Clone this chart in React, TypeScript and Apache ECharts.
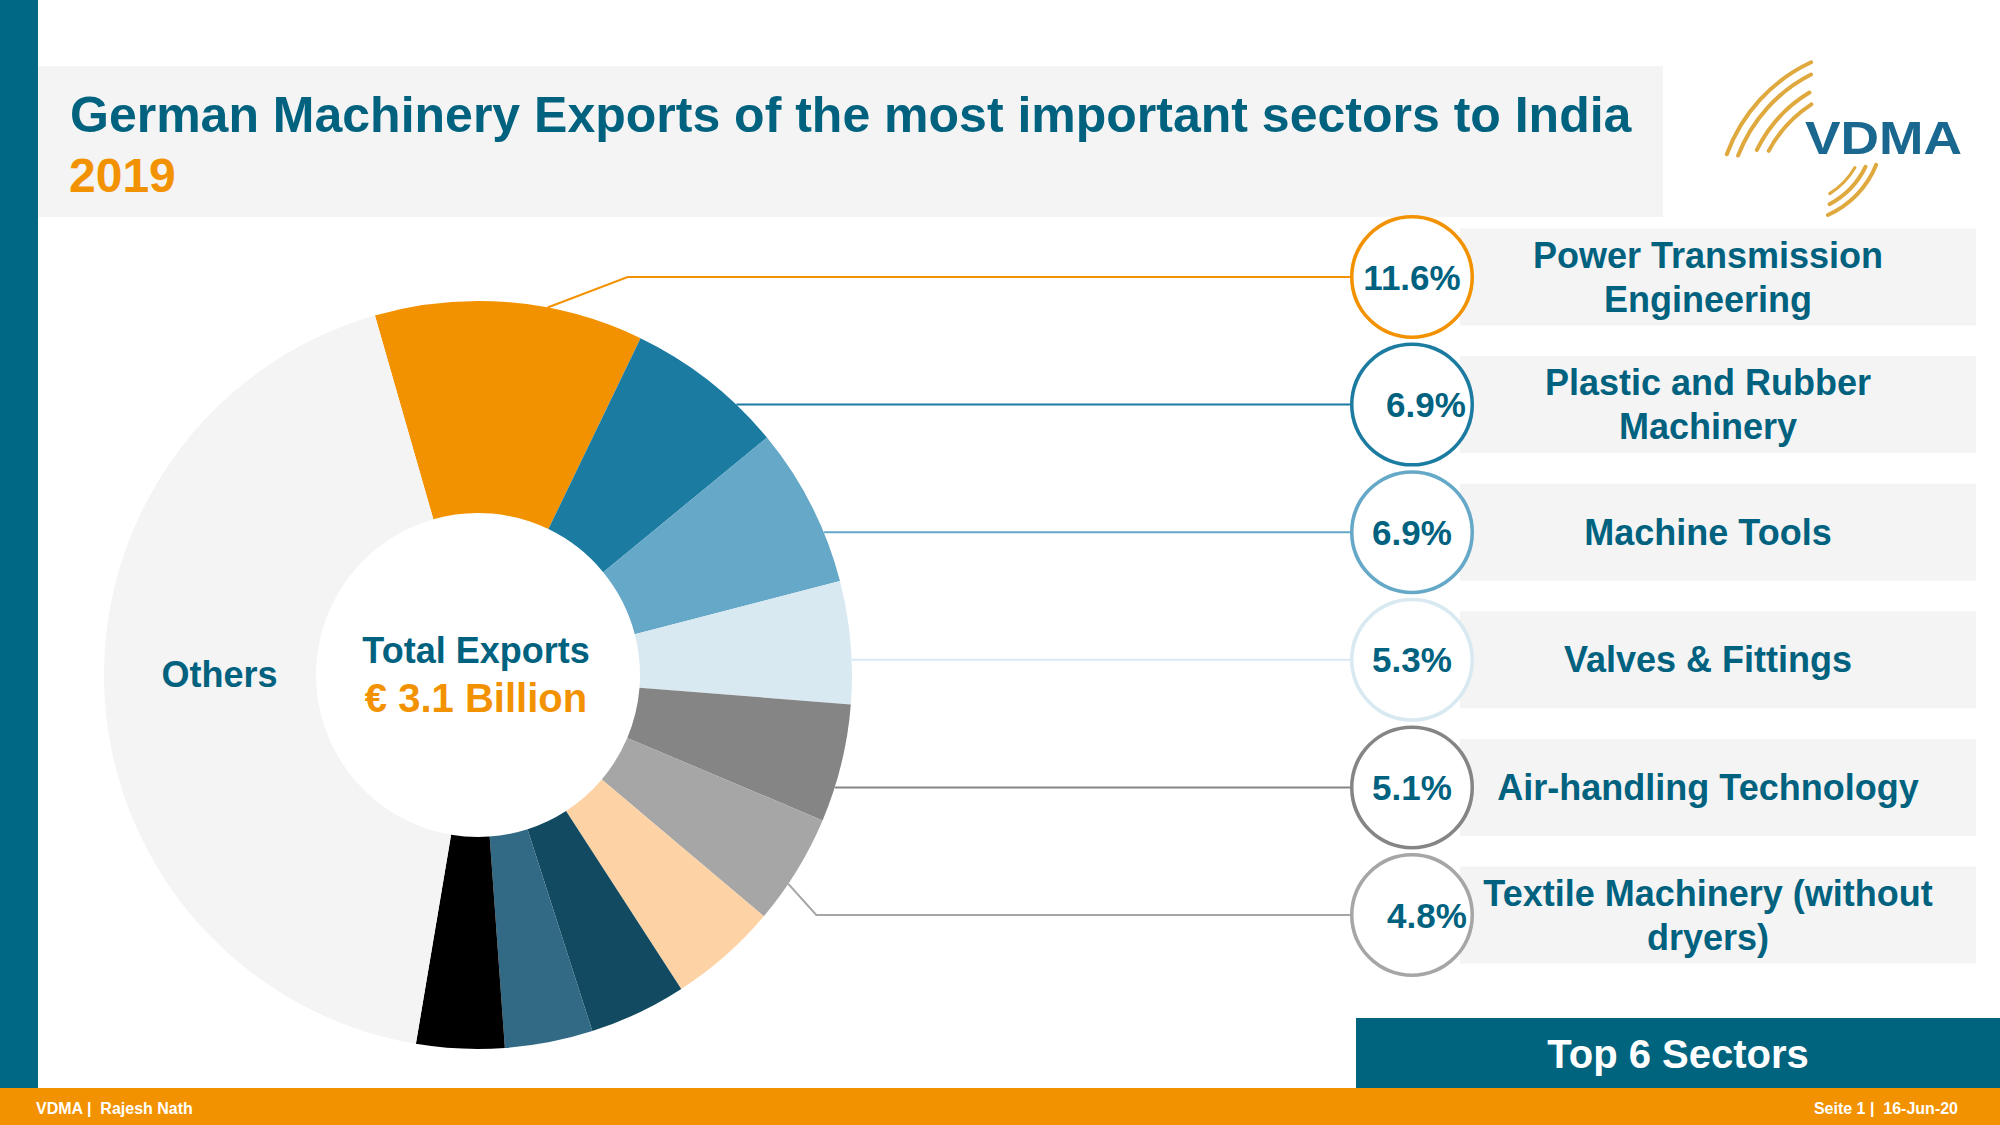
import React, { useEffect, useRef } from 'react';
import * as echarts from 'echarts';

// ---------- data ----------
const sectorNames = [
  'Power Transmission Engineering',
  'Plastic and Rubber Machinery',
  'Machine Tools',
  'Valves & Fittings',
  'Air-handling Technology',
  'Textile Machinery (without dryers)',
  'Sector 7',
  'Sector 8',
  'Sector 9',
  'Sector 10',
  'Others',
];
const sectorLabels = [
  'Power Transmission\nEngineering',
  'Plastic and Rubber\nMachinery',
  'Machine Tools',
  'Valves & Fittings',
  'Air-handling Technology',
  'Textile Machinery (without\ndryers)',
];
const shareValues = [11.6, 6.9, 6.9, 5.3, 5.1, 4.8, 4.7, 4.2, 3.8, 3.8, 42.9];
const sliceColors = [
  '#F39200', '#1B7BA0', '#65A8C8', '#D9E9F2', '#858585', '#A6A6A6',
  '#FDD3A6', '#124B61', '#326A85', '#000000', '#F4F4F4',
];
const titleText = 'German Machinery Exports of the most important sectors to India';
const yearText = '2019';
const totalLabel = 'Total Exports';
const totalValue = '€ 3.1 Billion';
const badgeText = 'Top 6 Sectors';
const footerLeft = 'VDMA |  Rajesh Nath';
const footerRight = 'Seite 1 |  16-Jun-20';
const topCount = 6;

// ---------- style / layout ----------
const FONT = '"Liberation Sans", Arial, Helvetica, sans-serif';
const TEAL = '#00627F';
const ORANGE = '#F39200';
const CX = 478;
const CY = 675;
const R_IN = 162;
const R_OUT = 374;
const START_DEG = -16; // clockwise from 12 o'clock
const CIRCLE_X = 1412;
const CIRCLE_Y0 = 277;
const CIRCLE_STEP = 127.6;
const CIRCLE_D = 117;
const textShift = [0, 14, 0, 0, 0, 15];
const bendDx = [80, 0, 0, 0, 0, 28];

function sum(a: number[]) {
  return a.reduce((s, v) => s + v, 0);
}
const total = sum(shareValues);
function sliceRange(i: number) {
  const a0 = START_DEG + (sum(shareValues.slice(0, i)) / total) * 360;
  const a1 = a0 + (shareValues[i] / total) * 360;
  return [a0, a1];
}
function pointAt(deg: number, r: number) {
  const rad = (deg * Math.PI) / 180;
  return [CX + r * Math.sin(rad), CY - r * Math.cos(rad)];
}
function leader(i: number, y: number, x2: number) {
  const [a0, a1] = sliceRange(i);
  const w = a1 - a0;
  const dy = y - CY;
  if (Math.abs(dy) < R_OUT) {
    const th = 90 + (Math.atan2(dy, Math.sqrt(R_OUT * R_OUT - dy * dy)) * 180) / Math.PI;
    if (th >= a0 + 0.1 * w && th <= a1 - 0.1 * w) {
      const p = pointAt(th, R_OUT);
      return [p, [p[0], p[1]], [x2, y]];
    }
  }
  const p0 = pointAt(a0 + 0.64 * w, R_OUT);
  const p1 = [p0[0] + bendDx[i], y];
  return [p0, p1, [x2, y]];
}
const circleY = (i: number) => CIRCLE_Y0 + i * CIRCLE_STEP;

function arcEl(cx: number, cy: number, r: number, a0: number, a1: number, w: number) {
  return {
    type: 'arc',
    z: 20,
    shape: { cx, cy, r, startAngle: (a0 * Math.PI) / 180, endAngle: (a1 * Math.PI) / 180, clockwise: true },
    style: { stroke: '#E0A93E', lineWidth: w, fill: null, lineCap: 'round' },
  };
}

export default function App() {
  const ref = useRef<HTMLDivElement>(null);

  useEffect(() => {
    if (!ref.current) return;
    const chart = echarts.init(ref.current, undefined, { renderer: 'svg' });

    const data = sectorNames.map((name, i) => {
      const item: any = {
        name,
        value: shareValues[i],
        itemStyle: { color: sliceColors[i] },
      };
      if (i < topCount) {
        const pad = textShift[i] * 2;
        item.label = {
          show: true,
          position: 'outside',
          formatter: () => shareValues[i].toFixed(1) + '%',
          width: CIRCLE_D - pad,
          lineHeight: CIRCLE_D,
          padding: [0, 0, 0, pad],
          backgroundColor: '#FFFFFF',
          borderColor: sliceColors[i],
          borderWidth: 3.5,
          borderRadius: CIRCLE_D / 2,
          fontSize: 35,
          fontWeight: 'bold',
          fontFamily: FONT,
          color: TEAL,
          align: 'center',
        };
        item.labelLine = { show: true, lineStyle: { color: sliceColors[i], width: 2 } };
      } else if (name === 'Others') {
        item.label = {
          show: true,
          position: 'inside',
          formatter: 'Others',
          fontSize: 36,
          fontWeight: 'bold',
          fontFamily: FONT,
          color: TEAL,
          offset: [12, -16],
        };
        item.labelLine = { show: false };
      } else {
        item.label = { show: false };
        item.labelLine = { show: false };
      }
      return item;
    });

    const graphics: any[] = [];
    // left bar, footer, title box
    graphics.push({ type: 'rect', z: 1, shape: { x: 0, y: 0, width: 38, height: 1088 }, style: { fill: '#006884' } });
    graphics.push({ type: 'rect', z: 1, shape: { x: 0, y: 1088, width: 2000, height: 37 }, style: { fill: ORANGE } });
    graphics.push({ type: 'rect', z: 1, shape: { x: 38, y: 66, width: 1625, height: 151 }, style: { fill: '#F4F4F4' } });
    graphics.push({
      type: 'text', z: 5, x: 70, y: 115,
      style: { text: titleText, fill: TEAL, fontSize: 50, fontWeight: 'bold', fontFamily: FONT, align: 'left', verticalAlign: 'middle' },
    });
    graphics.push({
      type: 'text', z: 5, x: 69, y: 175,
      style: { text: yearText, fill: ORANGE, fontSize: 48, fontWeight: 'bold', fontFamily: FONT, align: 'left', verticalAlign: 'middle' },
    });
    // sector boxes + names
    sectorLabels.forEach((t, i) => {
      const cy = circleY(i);
      graphics.push({ type: 'rect', z: 1, shape: { x: 1460, y: cy - 48.5, width: 516, height: 97 }, style: { fill: '#F4F4F4' } });
      graphics.push({
        type: 'text', z: 5, x: 1708, y: cy,
        style: { text: t, fill: TEAL, fontSize: 36, fontWeight: 'bold', fontFamily: FONT, align: 'center', verticalAlign: 'middle', lineHeight: 44 },
      });
    });
    // centre texts
    graphics.push({
      type: 'text', z: 5, x: 476, y: 650,
      style: { text: totalLabel, fill: TEAL, fontSize: 36, fontWeight: 'bold', fontFamily: FONT, align: 'center', verticalAlign: 'middle' },
    });
    graphics.push({
      type: 'text', z: 5, x: 476, y: 698,
      style: { text: totalValue, fill: ORANGE, fontSize: 40, fontWeight: 'bold', fontFamily: FONT, align: 'center', verticalAlign: 'middle' },
    });
    // badge
    graphics.push({ type: 'rect', z: 1, shape: { x: 1356, y: 1018, width: 644, height: 70 }, style: { fill: '#00647F' } });
    graphics.push({
      type: 'text', z: 5, x: 1678, y: 1054,
      style: { text: badgeText, fill: '#FFFFFF', fontSize: 40, fontWeight: 'bold', fontFamily: FONT, align: 'center', verticalAlign: 'middle' },
    });
    // footer texts
    graphics.push({
      type: 'text', z: 5, x: 36, y: 1108,
      style: { text: footerLeft, fill: '#FFFFFF', fontSize: 16, fontWeight: 'bold', fontFamily: FONT, align: 'left', verticalAlign: 'middle' },
    });
    graphics.push({
      type: 'text', z: 5, x: 1958, y: 1108,
      style: { text: footerRight, fill: '#FFFFFF', fontSize: 16, fontWeight: 'bold', fontFamily: FONT, align: 'right', verticalAlign: 'middle' },
    });
    // logo
    graphics.push({
      type: 'text', z: 20, x: 1805, y: 138, scaleX: 1.16,
      style: { text: 'VDMA', fill: '#1A6790', fontSize: 46, fontWeight: 'bold', fontFamily: FONT, align: 'left', verticalAlign: 'middle' },
    });
    graphics.push(arcEl(1880, 210, 163, 200, 245, 4));
    graphics.push(arcEl(1880, 210, 152, 201, 243, 4));
    graphics.push(arcEl(1880, 210, 137, 206, 239, 4));
    graphics.push(arcEl(1880, 210, 126, 208, 237, 4));
    graphics.push(arcEl(1790, 130, 93, 22, 66, 4));
    graphics.push(arcEl(1790, 130, 84, 26, 62, 4));
    graphics.push(arcEl(1790, 130, 75, 30, 58, 3));

    chart.setOption({
      animation: false,
      backgroundColor: '#FFFFFF',
      graphic: { elements: graphics },
      series: [
        {
          type: 'pie',
          z: 3,
          center: [CX, CY],
          radius: [R_IN, R_OUT],
          startAngle: 90 - START_DEG,
          clockwise: true,
          avoidLabelOverlap: false,
          silent: true,
          data,
          label: { show: false },
          labelLine: { show: false },
          labelLayout: (params: any) => {
            const i = params.dataIndex;
            if (i >= topCount) return {};
            const y = circleY(i);
            const x2 = CIRCLE_X - CIRCLE_D / 2 - 1.75;
            return {
              x: CIRCLE_X,
              y,
              align: 'center',
              verticalAlign: 'middle',
              labelLinePoints: leader(i, y, x2),
            };
          },
        },
      ],
    });

    return () => {
      chart.dispose();
    };
  }, []);

  return (
    <div
      ref={ref}
      style={{ position: 'fixed', left: 0, top: 0, width: 2000, height: 1125, background: '#FFFFFF' }}
    />
  );
}
